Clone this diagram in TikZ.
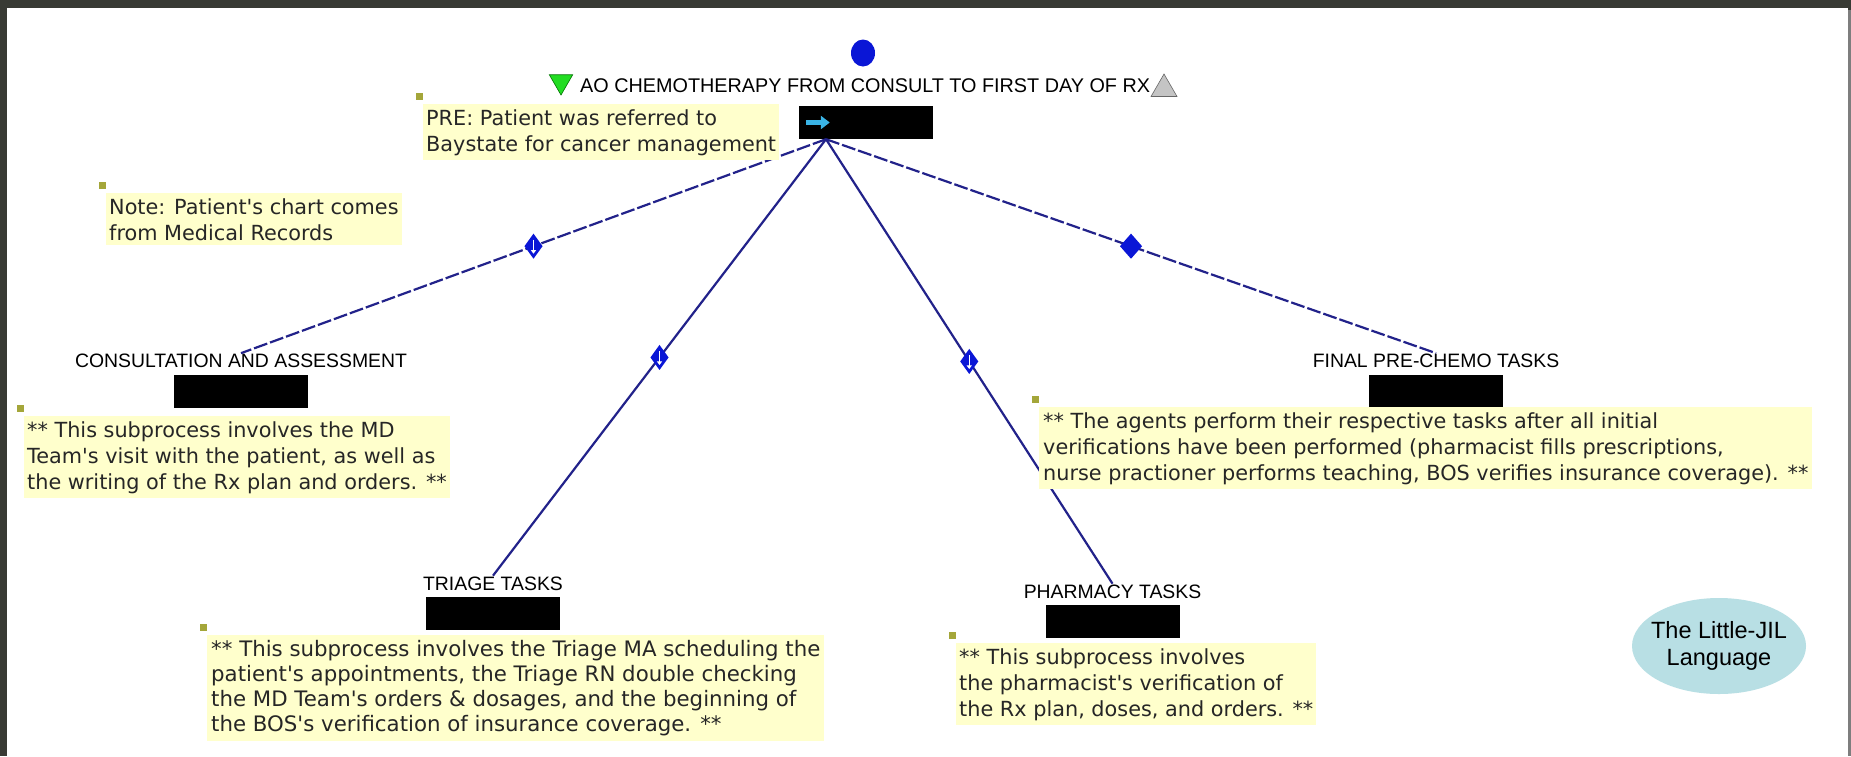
\documentclass[tikz,border=0pt]{standalone}
\usepackage{fontspec}
\setmainfont{Liberation Sans}
\newfontfamily\notesfont{DejaVu Sans}
\usetikzlibrary{shapes.geometric,arrows.meta,positioning}

\definecolor{framedark}{HTML}{383A34}
\definecolor{framegray}{HTML}{7E7E7E}
\definecolor{notefill}{HTML}{FFFFCC}
\definecolor{notemark}{HTML}{A4A63A}
\definecolor{edgeblue}{HTML}{22228A}
\definecolor{diamblue}{HTML}{0A16D6}
\definecolor{arrowcyan}{HTML}{3AB4E6}
\definecolor{bubble}{HTML}{B8DFE4}
\definecolor{triggreen}{HTML}{22DD22}
\definecolor{triggray}{HTML}{C4C4C4}

\tikzset{
  stepbar/.style={fill=black, minimum width=134pt, minimum height=33pt, inner sep=0pt},
  steptitle/.style={font=\fontsize{19.4}{22}\selectfont, inner sep=1pt, text=black},
  note/.style={fill=notefill, align=left, anchor=north west, text=black!85,
    font=\notesfont\fontsize{20.8}{26}\selectfont, inner xsep=3pt, inner ysep=5pt},
  notepin/.style={fill=notemark, minimum size=7pt, inner sep=0pt},
  edge/.style={draw=edgeblue, line width=2.2pt},
  shallow/.style={dash pattern=on 14pt off 3pt},
  seqdiamond/.style={diamond, fill=diamblue, inner sep=0pt,
    minimum width=19pt, minimum height=26pt,
    path picture={\draw[white, line width=1.2pt, -{Triangle[length=3.5pt,width=5pt]}]
      ([yshift=-6pt]path picture bounding box.north) --
      ([yshift=5pt]path picture bounding box.south);}},
  pardiamond/.style={diamond, fill=diamblue, inner sep=0pt,
    minimum width=23pt, minimum height=26pt},
}

\begin{document}
\begin{tikzpicture}[x=1pt, y=-1pt]
  % frame
  \fill[framedark] (0,0) rectangle (1851,756);
  \fill[white] (7,8) rectangle (1848,756);
  \fill[framegray] (1848,10) rectangle (1851,756);
  \useasboundingbox (0,0) rectangle (1851,756);

  % root step
  \node[ellipse, fill=diamblue, minimum width=24pt, minimum height=27pt, inner sep=0pt] (rootdot) at (863,53) {};
  \node[steptitle, font=\fontsize{19.8}{22}\selectfont, anchor=west] (title) at (579,86) {AO CHEMOTHERAPY FROM CONSULT TO FIRST DAY OF RX};
  \node[regular polygon, regular polygon sides=3, shape border rotate=180,
        fill=triggreen, draw=green!45!black, line width=0.6pt,
        minimum size=27pt, inner sep=0pt] (prereq) at (561,81.5) {};
  \node[regular polygon, regular polygon sides=3,
        fill=triggray, draw=gray!80!black, line width=0.6pt,
        minimum size=30pt, inner sep=0pt] (postreq) at (1164,89) {};
  \node[stepbar] (root) at (866,122.5) {};
  \draw[arrowcyan, line width=5pt, -{Triangle[length=9pt,width=13pt]}]
    ([xshift=7pt]root.west) -- ++(24,0);
  \coordinate (hub) at ([xshift=-40pt]root.south);

  % substeps
  \node[stepbar] (consultbar) at (241,391) {};
  \node[steptitle, above=5pt of consultbar] (consultlbl) {CONSULTATION AND ASSESSMENT};
  \node[stepbar] (triagebar) at (493,613.5) {};
  \node[steptitle, above=5pt of triagebar] (triagelbl) {TRIAGE TASKS};
  \node[stepbar] (pharmbar) at (1112.5,621.5) {};
  \node[steptitle, above=5pt of pharmbar] (pharmlbl) {PHARMACY TASKS};
  \node[stepbar] (finalbar) at (1436,391) {};
  \node[steptitle, above=5pt of finalbar] (finallbl) {FINAL PRE-CHEMO TASKS};

  % edges with sequencing badges
  \draw[edge, shallow] (hub) -- node[seqdiamond] (d1) {} (consultlbl.north);
  \draw[edge] (hub) -- node[seqdiamond] (d2) {} (triagelbl.north);
  \draw[edge] (hub) -- node[seqdiamond] (d3) {} (pharmlbl.north);
  \draw[edge, shallow] (hub) -- node[pardiamond] (d4) {} (finallbl.north);

  % annotations
  \node[note] (prenote) at (423,104) {PRE: Patient was referred to\\Baystate for cancer management};
  \node[note] (chartnote) at (106,193) {Note: Patient's chart comes\\from Medical Records};
  \node[note] (consultnote) at (24,416) {** This subprocess involves the MD\\Team's visit with the patient, as well as\\the writing of the Rx plan and orders. **};
  \node[note, inner xsep=4pt] (finalnote) at (1039,407) {** The agents perform their respective tasks after all initial\\verifications have been performed (pharmacist fills prescriptions,\\nurse practioner performs teaching, BOS verifies insurance coverage). **};
  \node[note, font=\notesfont\fontsize{21.3}{25}\selectfont, inner xsep=4pt] (triagenote) at (207,635) {** This subprocess involves the Triage MA scheduling the\\patient's appointments, the Triage RN double checking\\the MD Team's orders \& dosages, and the  beginning of\\the BOS's verification of insurance coverage. **};
  \node[note] (pharmnote) at (956,643) {** This subprocess involves\\the pharmacist's verification of\\the Rx plan, doses, and orders. **};

  \foreach \n in {prenote,chartnote,consultnote,finalnote,triagenote,pharmnote}
    \node[notepin] at ([shift={(-4,-8)}]\n.north west) {};

  % language badge
  \node[ellipse, fill=bubble, minimum width=174pt, minimum height=96pt, inner sep=0pt] (lang) at (1719,646) {};
  \node[align=center, font=\fontsize{23.5}{27}\selectfont, inner sep=0pt] (langtext) at (lang.center) {The Little-JIL\\Language};
\end{tikzpicture}
\end{document}
